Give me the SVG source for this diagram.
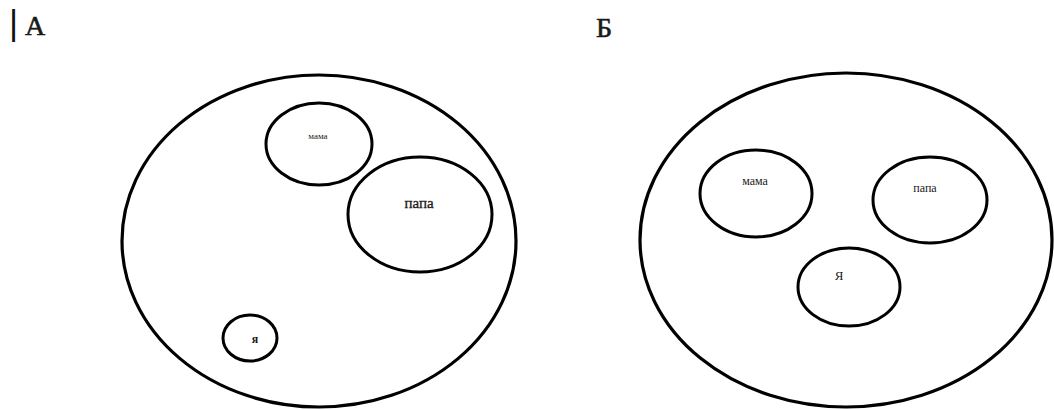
<svg xmlns="http://www.w3.org/2000/svg" width="1054" height="410" viewBox="0 0 1054 410">
  <style>
    .ring { fill: none; stroke: #000; stroke-width: 3; }
    .outer { fill: none; stroke: #000; stroke-width: 3.2; }
    .lbl { font-family: 'Liberation Serif', 'DejaVu Serif', serif; fill: #1a1a1a; text-anchor: middle; }
    .head { font-family: 'Liberation Serif', 'DejaVu Serif', serif; fill: #1a1a1a; stroke: #1a1a1a; stroke-width: 0.6; }
  </style>
  <rect width="1054" height="410" fill="#fff"/>

  <!-- panel headings -->
  <g id="heading-a">
    <text x="9" y="35" font-family="Liberation Sans, Arial, sans-serif" font-size="35" fill="#111">|</text>
    <text class="head" x="25" y="35" font-size="28">А</text>
  </g>
  <g id="heading-b">
    <text class="head" x="596" y="36.5" font-size="28">Б</text>
  </g>

  <!-- panel A: family circle -->
  <g id="a-family">
    <ellipse class="outer" cx="319" cy="241" rx="197" ry="166"/>
  </g>
  <g id="a-mama">
    <ellipse class="ring" cx="319" cy="144" rx="53" ry="41"/>
    <text class="lbl" x="318" y="139" font-size="9">мама</text>
  </g>
  <g id="a-papa">
    <ellipse class="ring" cx="420" cy="214.5" rx="72" ry="57.5"/>
    <text class="lbl" x="419" y="208" font-size="15" stroke="#1a1a1a" stroke-width="0.3">папа</text>
  </g>
  <g id="a-ya">
    <ellipse class="ring" cx="250" cy="338" rx="27" ry="23"/>
    <text class="lbl" x="255" y="343" font-size="12" font-weight="bold">я</text>
  </g>

  <!-- panel B: family circle -->
  <g id="b-family">
    <ellipse class="outer" cx="846" cy="240" rx="206" ry="167" stroke-width="3.8"/>
  </g>
  <g id="b-mama">
    <ellipse class="ring" cx="756" cy="193.5" rx="56" ry="43.5"/>
    <text class="lbl" x="755" y="185" font-size="12">мама</text>
  </g>
  <g id="b-papa">
    <ellipse class="ring" cx="930" cy="200" rx="57" ry="43"/>
    <text class="lbl" x="925" y="192" font-size="12">папа</text>
  </g>
  <g id="b-ya">
    <ellipse class="ring" cx="849" cy="287" rx="51" ry="39"/>
    <text class="lbl" x="839" y="280" font-size="13">Я</text>
  </g>

  <!-- no connectors in this figure -->
  <g id="connectors"/>
</svg>
